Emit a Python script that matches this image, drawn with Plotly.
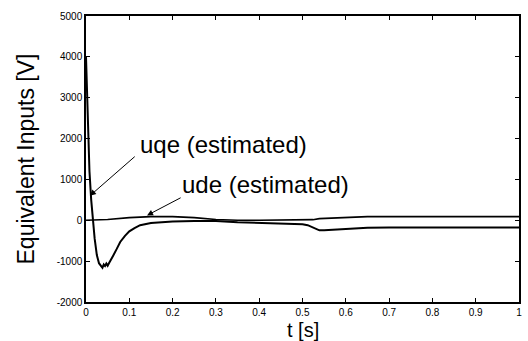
import plotly.graph_objects as go

# uqe (estimated)
t_uqe = [0, 0.003, 0.008, 0.012, 0.016, 0.02, 0.025, 0.03, 0.035, 0.038, 0.041, 0.044, 0.047,
         0.05, 0.053, 0.056, 0.063, 0.071, 0.079, 0.09, 0.1, 0.112, 0.125, 0.15, 0.175, 0.2,
         0.25, 0.3, 0.35, 0.4, 0.45, 0.5, 0.512, 0.524, 0.539, 0.55, 0.577, 0.615, 0.65, 0.7,
         0.8, 0.9, 1.0]
v_uqe = [4000, 3000, 1200, 500, 0, -450, -850, -1050, -1120, -1160, -1080, -1120, -1060,
         -1110, -1050, -1000, -860, -700, -530, -380, -270, -190, -120, -65, -40, -30,
         -15, -20, -50, -70, -85, -95, -120, -180, -245, -245, -230, -195, -180, -175,
         -175, -175, -175]

# ude (estimated)
t_ude = [0, 0.05, 0.1, 0.15, 0.2, 0.25, 0.3, 0.35, 0.4, 0.45, 0.5, 0.524, 0.539, 0.577,
         0.615, 0.65, 0.7, 0.8, 0.9, 1.0]
v_ude = [0, 20, 65, 90, 90, 65, 20, 0, 0, 0, 0, 15, 40, 55, 65, 90, 90, 90, 90, 90]

x_ticks = [0, 0.1, 0.2, 0.3, 0.4, 0.5, 0.6, 0.7, 0.8, 0.9, 1]
x_tick_labels = ["0", "0.1", "0.2", "0.3", "0.4", "0.5", "0.6", "0.7", "0.8", "0.9", "1"]
y_ticks = [-2000, -1000, 0, 1000, 2000, 3000, 4000, 5000]
y_tick_labels = ["-2000", "-1000", "0", "1000", "2000", "3000", "4000", "5000"]

FONT = "Liberation Sans, Arial, sans-serif"

fig = go.Figure()
fig.add_trace(go.Scatter(x=t_uqe, y=v_uqe, mode="lines",
                         line=dict(color="black", width=2), showlegend=False))
fig.add_trace(go.Scatter(x=t_ude, y=v_ude, mode="lines",
                         line=dict(color="black", width=1.6), showlegend=False))

# arrows
fig.add_annotation(x=0.009, y=600, ax=0.116, ay=1590, xref="x", yref="y",
                   axref="x", ayref="y", text="", showarrow=True,
                   arrowhead=2, arrowsize=1.2, arrowwidth=1, arrowcolor="black")
fig.add_annotation(x=0.141, y=120, ax=0.222, ay=570, xref="x", yref="y",
                   axref="x", ayref="y", text="", showarrow=True,
                   arrowhead=2, arrowsize=1.2, arrowwidth=1, arrowcolor="black")
# labels
fig.add_annotation(x=0.12, y=1850, xref="x", yref="y", text="uqe (estimated)",
                   showarrow=False, xanchor="left", yanchor="middle",
                   font=dict(family=FONT, size=24, color="black"))
fig.add_annotation(x=0.218, y=870, xref="x", yref="y", text="ude (estimated)",
                   showarrow=False, xanchor="left", yanchor="middle",
                   font=dict(family=FONT, size=24, color="black"))
# x-axis title
fig.add_annotation(x=0.5, y=0, xref="paper", yref="paper", text="t [s]",
                   showarrow=False, xanchor="center", yanchor="middle", yshift=-28,
                   borderpad=0,
                   font=dict(family=FONT, size=20, color="black"))

axis_common = dict(showline=True, linecolor="black", linewidth=1.5, mirror="ticks",
                   ticks="inside", ticklen=4, tickwidth=1, tickcolor="black",
                   showgrid=False, zeroline=False,
                   tickfont=dict(family=FONT, size=10, color="black"))

fig.update_xaxes(range=[0, 1], tickvals=x_ticks, ticktext=x_tick_labels, **axis_common)
fig.update_yaxes(range=[-2000, 5000], tickvals=y_ticks, ticktext=y_tick_labels,
                 title=dict(text="Equivalent Inputs [V]",
                            font=dict(family=FONT, size=23, color="black"), standoff=16),
                 **axis_common)

fig.update_layout(width=528, height=341, margin=dict(l=86, r=9, t=16, b=39, autoexpand=False),
                  paper_bgcolor="white", plot_bgcolor="white")

fig.write_html("out.html")
